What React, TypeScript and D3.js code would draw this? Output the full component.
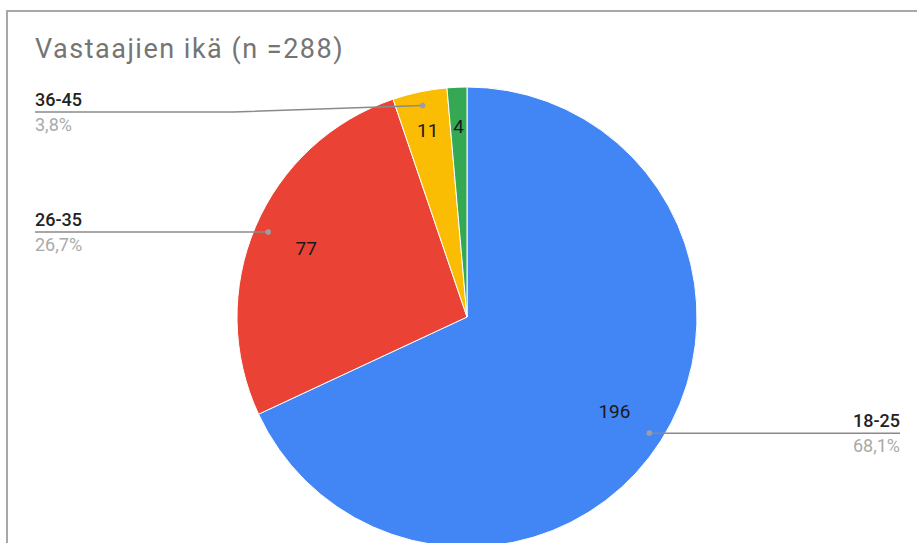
import React, { useEffect, useRef } from "react";
import * as d3 from "d3";

const W = 917;
const H = 543;

// data
const categories = ["18-25", "26-35", "36-45", "46+"];
const counts = [196, 77, 11, 4];
const colors = ["#4285f4", "#ea4335", "#fbbc04", "#34a853"];
const showOutside = [true, true, true, false];
const title = "Vastaajien ikä (n =288)";

const App = () => {
  const svgRef = useRef<SVGSVGElement>(null);

  useEffect(() => {
    document.body.style.margin = "0";
    const svg = d3.select(svgRef.current);
    svg.selectAll("*").remove();

    const font = "Roboto, Arial, sans-serif";
    const cx = 467;
    const cy = 317;
    const r = 230;

    // outer frame (only left and top visible)
    svg
      .append("rect")
      .attr("x", 7)
      .attr("y", 11)
      .attr("width", W + 40)
      .attr("height", H + 40)
      .attr("fill", "white")
      .attr("stroke", "#a8a8a8")
      .attr("stroke-width", 2);

    svg
      .append("text")
      .attr("x", 35)
      .attr("y", 58)
      .attr("font-family", font)
      .attr("font-size", 27)
      .attr("letter-spacing", 1.5)
      .attr("fill", "#757575")
      .text(title);

    const total = d3.sum(counts);
    const data = categories.map((c, i) => ({ name: c, value: counts[i], i }));

    const pie = d3
      .pie<any>()
      .value((d) => d.value)
      .sort(null)
      .startAngle(0)
      .endAngle(2 * Math.PI);
    const arcs = pie(data);

    const arc = d3.arc<any>().innerRadius(0).outerRadius(r);

    const g = svg.append("g").attr("transform", `translate(${cx},${cy})`);

    g.selectAll("path")
      .data(arcs)
      .enter()
      .append("path")
      .attr("d", arc)
      .attr("fill", (d) => colors[d.data.i])
      .attr("stroke", "white")
      .attr("stroke-width", 1);

    // value labels inside slices
    g.selectAll("text.val")
      .data(arcs)
      .enter()
      .append("text")
      .attr("class", "val")
      .attr("transform", (d) => {
        const share = d.data.value / total;
        const lr = share < 0.05 ? r * 0.83 : r * 0.76;
        const a = (d.startAngle + d.endAngle) / 2;
        return `translate(${lr * Math.sin(a)},${-lr * Math.cos(a)})`;
      })
      .attr("text-anchor", "middle")
      .attr("dy", "0.35em")
      .attr("font-family", font)
      .attr("font-size", 19)
      .attr("fill", "#1a1a1a")
      .text((d) => d.data.value);

    // outside labels with leader lines
    const fmt = d3.format(".1%");
    const minLabelY = 112;
    arcs
      .filter((d) => showOutside[d.data.i])
      .forEach((d) => {
        const a = (d.startAngle + d.endAngle) / 2;
        const dx = cx + r * 0.94 * Math.sin(a);
        const dy = cy - r * 0.94 * Math.cos(a);
        const right = Math.sin(a) > 0;
        const ly = Math.max(dy, minLabelY);
        const endX = right ? 900 : 35;
        const elbowX = right ? dx : 233;

        const pts: [number, number][] =
          ly === dy
            ? [
                [dx, dy],
                [endX, ly],
              ]
            : [
                [dx, dy],
                [elbowX, ly],
                [endX, ly],
              ];

        svg
          .append("path")
          .attr("d", d3.line()(pts))
          .attr("fill", "none")
          .attr("stroke", "#8a8a8a")
          .attr("stroke-width", 1.5);

        svg
          .append("circle")
          .attr("cx", dx)
          .attr("cy", dy)
          .attr("r", 2.8)
          .attr("fill", "#9e9e9e");

        svg
          .append("text")
          .attr("x", endX)
          .attr("y", ly - 6)
          .attr("text-anchor", right ? "end" : "start")
          .attr("font-family", font)
          .attr("font-size", 18)
          .attr("font-weight", 500)
          .attr("fill", "#222")
          .text(d.data.name);

        svg
          .append("text")
          .attr("x", endX)
          .attr("y", ly + 19)
          .attr("text-anchor", right ? "end" : "start")
          .attr("font-family", font)
          .attr("font-size", 18)
          .attr("fill", "#aaaaaa")
          .text(fmt(d.data.value / total).replace(".", ","));
      });
  }, []);

  return (
    <div style={{ width: W, height: H, overflow: "hidden" }}>
      <svg ref={svgRef} width={W} height={H} style={{ display: "block" }}></svg>
    </div>
  );
};

export default App;
